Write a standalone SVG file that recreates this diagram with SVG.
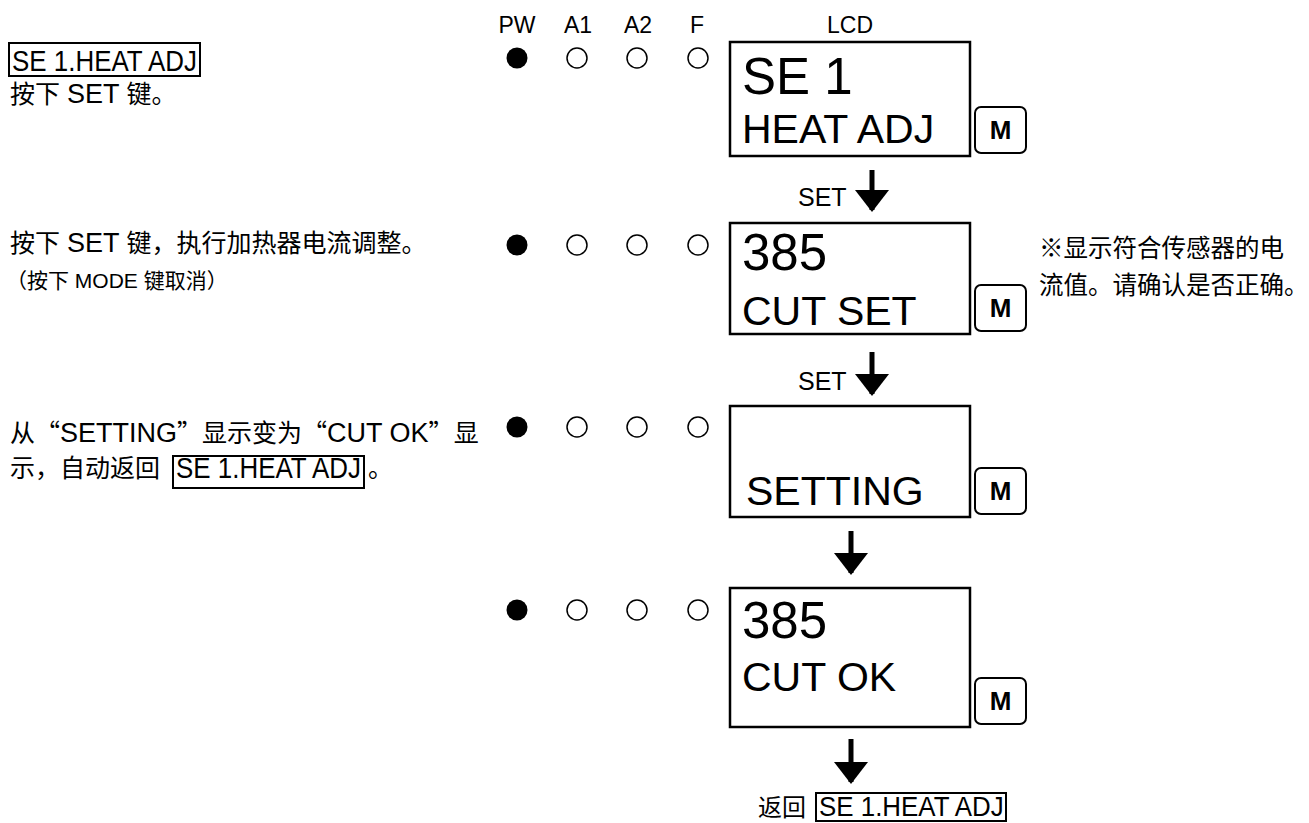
<svg xmlns="http://www.w3.org/2000/svg" width="1309" height="823" viewBox="0 0 1309 823">
<style>
.t{font-family:'Liberation Sans','Noto Sans CJK SC',sans-serif;fill:#000}
.c{font-size:25px}
.l{font-size:27px}
.s{font-size:21px}
.hd{font-size:23px}
.big{font-size:51px}
.mid{font-size:41px}
.q{font-family:'Noto Sans CJK SC',sans-serif}
.box{fill:none;stroke:#000;stroke-width:2}
.lcd{fill:#fff;stroke:#000;stroke-width:2.5}
.mb{fill:#fff;stroke:#000;stroke-width:2}
.mt{font-family:'Liberation Sans',sans-serif;font-weight:bold;font-size:26px;text-anchor:middle}
.on{fill:#000}
.off{fill:none;stroke:#000;stroke-width:1.5}
.arr{stroke:#000;stroke-width:5;fill:none}
</style>
<defs>
<marker id="ah" markerUnits="userSpaceOnUse" markerWidth="22" markerHeight="34" refX="20" refY="17" orient="auto">
<polygon points="0,0 22,17 0,34" fill="#000"/>
</marker>
</defs>

<g id="header">
<text class="t hd" x="517" y="33" text-anchor="middle">PW</text>
<text class="t hd" x="578" y="33" text-anchor="middle">A1</text>
<text class="t hd" x="638" y="33" text-anchor="middle">A2</text>
<text class="t hd" x="697" y="33" text-anchor="middle">F</text>
<text class="t hd" x="850" y="33" text-anchor="middle">LCD</text>
</g>

<g id="step1">
<rect class="box" x="9" y="43" width="191" height="33"/>
<text class="t" transform="translate(12,71) scale(0.865,1)" font-size="30">SE 1.HEAT ADJ</text>
<text class="t c" x="10" y="103">按下 <tspan class="l">SET</tspan> 键。</text>
<circle class="on" cx="517" cy="58" r="10.5"/>
<circle class="off" cx="577" cy="58" r="10"/>
<circle class="off" cx="637" cy="58" r="10"/>
<circle class="off" cx="698" cy="58" r="10"/>
<rect class="lcd" x="730" y="42" width="240" height="114"/>
<text class="t big" x="742" y="94">SE 1</text>
<text class="t mid" x="742" y="143">HEAT ADJ</text>
<rect class="mb" x="975" y="107" width="51" height="46" rx="6"/>
<text class="mt" x="1000.5" y="139">M</text>
</g>

<g id="step2">
<text class="t c" x="10" y="252">按下 <tspan class="l">SET</tspan> 键，执行加热器电流调整。</text>
<text class="t s" x="6" y="288">（按下 MODE 键取消）</text>
<circle class="on" cx="517" cy="245" r="10.5"/>
<circle class="off" cx="577" cy="245" r="10"/>
<circle class="off" cx="637" cy="245" r="10"/>
<circle class="off" cx="698" cy="245" r="10"/>
<rect class="lcd" x="730" y="223" width="240" height="111"/>
<text class="t big" x="742" y="270">385</text>
<text class="t mid" x="742" y="325">CUT SET</text>
<rect class="mb" x="975" y="285" width="51" height="46" rx="6"/>
<text class="mt" x="1000.5" y="317">M</text>
<text class="t" x="1039" y="257" font-size="24.5">※显示符合传感器的电</text>
<text class="t" x="1039" y="294" font-size="24.5">流值。请确认是否正确。</text>
</g>

<g id="step3">
<text class="t c" x="10" y="442">从<tspan class="q">“</tspan><tspan class="l">SETTING</tspan><tspan class="q">”</tspan>显示变为<tspan class="q">“</tspan><tspan class="l">CUT OK</tspan><tspan class="q">”</tspan>显</text>
<text class="t c" x="10" y="477">示，自动返回</text>
<rect class="box" x="173" y="456" width="191" height="32"/>
<text class="t" transform="translate(176,478) scale(0.865,1)" font-size="30">SE 1.HEAT ADJ</text>
<text class="t c" x="368" y="477">。</text>
<circle class="on" cx="517" cy="427" r="10.5"/>
<circle class="off" cx="577" cy="427" r="10"/>
<circle class="off" cx="637" cy="427" r="10"/>
<circle class="off" cx="698" cy="427" r="10"/>
<rect class="lcd" x="730" y="406" width="240" height="111"/>
<text class="t mid" x="746" y="505">SETTING</text>
<rect class="mb" x="975" y="468" width="51" height="46" rx="6"/>
<text class="mt" x="1000.5" y="500">M</text>
</g>

<g id="step4">
<circle class="on" cx="517" cy="610" r="10.5"/>
<circle class="off" cx="577" cy="610" r="10"/>
<circle class="off" cx="637" cy="610" r="10"/>
<circle class="off" cx="698" cy="610" r="10"/>
<rect class="lcd" x="730" y="588" width="240" height="139"/>
<text class="t big" x="742" y="638">385</text>
<text class="t mid" x="742" y="691">CUT OK</text>
<rect class="mb" x="975" y="678" width="51" height="46" rx="6"/>
<text class="mt" x="1000.5" y="710">M</text>
</g>

<g id="return">
<text class="t" x="758" y="816" font-size="24">返回</text>
<rect class="box" x="816" y="793" width="190" height="28"/>
<text class="t" transform="translate(819,816) scale(0.925,1)" font-size="28">SE 1.HEAT ADJ</text>
</g>

<g id="connectors">
<text class="t" x="798" y="206" font-size="25">SET</text>
<line class="arr" x1="872" y1="170" x2="872" y2="210" marker-end="url(#ah)"/>
<text class="t" x="798" y="390" font-size="25">SET</text>
<line class="arr" x1="872" y1="352" x2="872" y2="394" marker-end="url(#ah)"/>
<line class="arr" x1="851" y1="531" x2="851" y2="573" marker-end="url(#ah)"/>
<line class="arr" x1="851" y1="739" x2="851" y2="782" marker-end="url(#ah)"/>
</g>
</svg>
